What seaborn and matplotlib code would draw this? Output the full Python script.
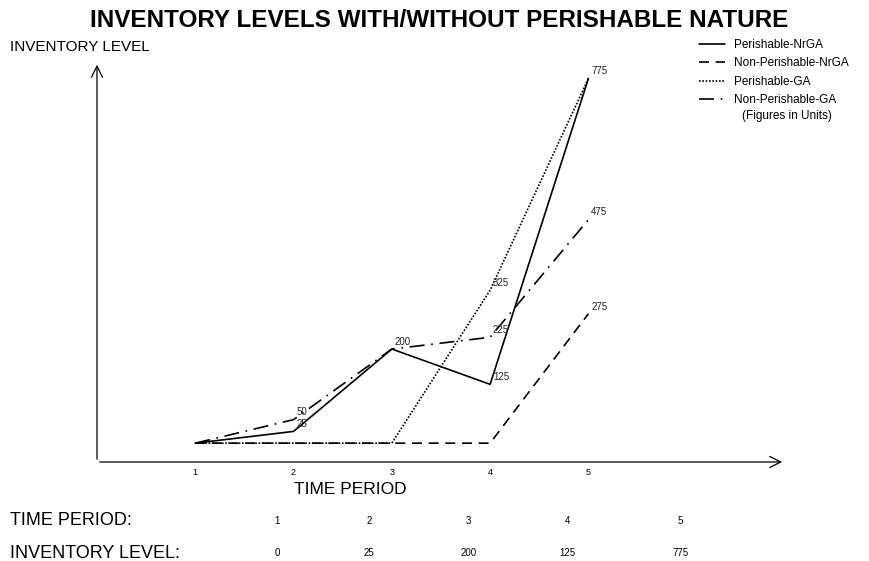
import seaborn as sns
import matplotlib.pyplot as plt
import pandas as pd

# values
periods = [1, 2, 3, 4, 5]
perishable_nrga = [0, 25, 200, 125, 775]
non_perishable_nrga = [0, 0, 0, 0, 275]
perishable_ga = [0, 0, 0, 325, 775]
non_perishable_ga = [0, 50, 200, 225, 475]
series_names = ['Perishable-NrGA', 'Non-Perishable-NrGA', 'Perishable-GA', 'Non-Perishable-GA']
table_periods = ['1', '2', '3', '4', '5']
table_levels = ['0', '25', '200', '125', '775']

series = [perishable_nrga, non_perishable_nrga, perishable_ga, non_perishable_ga]
styles = ['-', (0, (6, 4)), (0, (1, 1)), (0, (9, 4, 1, 4))]

sns.set_theme(style="white")
plt.rcParams['font.family'] = ['Liberation Sans', 'DejaVu Sans']
plt.rcParams['text.color'] = 'black'
plt.rcParams['xtick.color'] = 'black'

fig = plt.figure(figsize=(8.69, 5.61), dpi=100)
ax = fig.add_axes([0.1116, 0.1765, 0.7917, 0.713])

for name, vals, ls in zip(series_names, series, styles):
    df = pd.DataFrame({'period': periods, 'level': vals})
    sns.lineplot(data=df, x='period', y='level', ax=ax, color='black',
                 linestyle=ls, linewidth=1.2, label=name)

# point labels (zero values not labelled)
labelled = set()
for vals in series:
    for p, v in zip(periods, vals):
        if v == 0 or (p, v) in labelled:
            continue
        labelled.add((p, v))
        ax.annotate(str(v), (p, v), xytext=(2, 3), textcoords='offset points',
                    fontsize=7, color='#222222')

ax.set_xlim(0, 7)
ax.set_ylim(-40, 810)
ax.set_xticks(periods)
ax.set_xticklabels([str(p) for p in periods], fontsize=6.5)
ax.set_yticks([])
ax.tick_params(axis='x', length=0, pad=4)
for s in ax.spines.values():
    s.set_visible(False)
ax.set_xlabel('')
ax.set_ylabel('')

# axis arrows
ax.annotate('', xy=(1.0, 0), xytext=(0, 0), xycoords='axes fraction',
            arrowprops=dict(arrowstyle='->', color='black', lw=0.9, mutation_scale=20))
ax.annotate('', xy=(0, 1.0), xytext=(0, 0), xycoords='axes fraction',
            arrowprops=dict(arrowstyle='->', color='black', lw=0.9, mutation_scale=20))

leg = ax.legend(loc='upper left', bbox_to_anchor=(0.868, 1.07), frameon=False,
                fontsize=8.5, handlelength=2.2, labelspacing=0.55, borderaxespad=0)
for t in leg.get_texts():
    t.set_color('black')
fig.text(0.854, 0.793, '(Figures in Units)', va='center', fontsize=8.5)

fig.text(0.505, 0.963, 'INVENTORY LEVELS WITH/WITHOUT PERISHABLE NATURE',
         ha='center', va='center', fontsize=17.5, fontweight='bold')
fig.text(0.012, 0.917, 'INVENTORY LEVEL', ha='left', va='center', fontsize=11)
fig.text(0.403, 0.127, 'TIME PERIOD', ha='center', va='center', fontsize=12.5)

fig.text(0.012, 0.072, 'TIME PERIOD:', ha='left', va='center', fontsize=13)
fig.text(0.012, 0.014, 'INVENTORY LEVEL:', ha='left', va='center', fontsize=13)
table_x = [0.319, 0.425, 0.539, 0.653, 0.783]
for x, tp, lv in zip(table_x, table_periods, table_levels):
    fig.text(x, 0.072, tp, ha='center', va='center', fontsize=7)
    fig.text(x, 0.014, lv, ha='center', va='center', fontsize=7)

fig.savefig('out.png', dpi=100)
